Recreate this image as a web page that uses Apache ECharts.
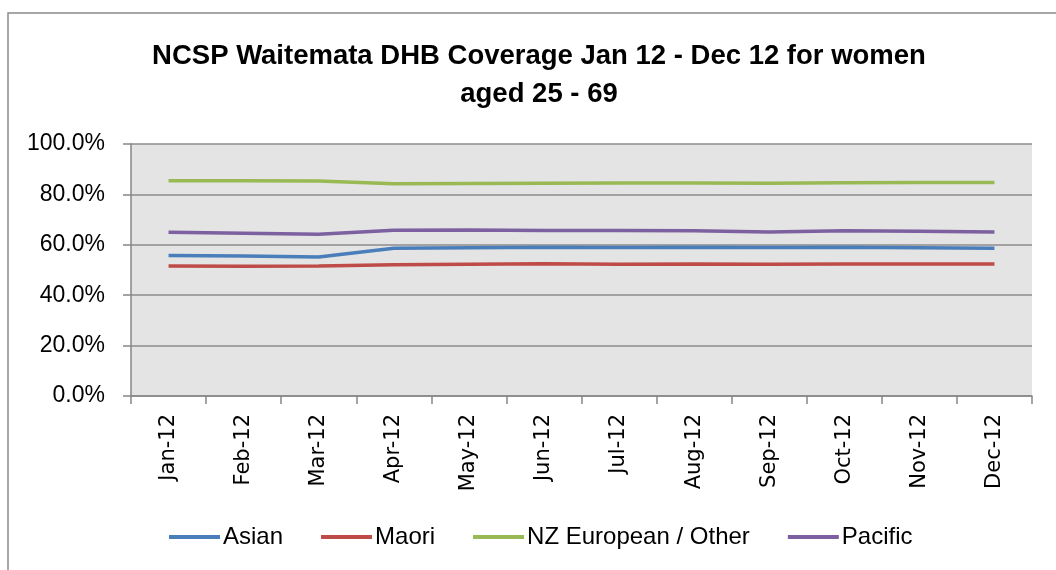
<!DOCTYPE html>
<html>
<head>
<meta charset="utf-8">
<script src="https://cdn.jsdelivr.net/npm/echarts@6/dist/echarts.min.js"></script>
<style>
  html, body { margin: 0; padding: 0; background: #fff; }
  #chart { width: 1056px; height: 570px; }
</style>
</head>
<body>
<div id="chart"></div>
<script>
// months on the x axis
var months = ['Jan-12', 'Feb-12', 'Mar-12', 'Apr-12', 'May-12', 'Jun-12',
  'Jul-12', 'Aug-12', 'Sep-12', 'Oct-12', 'Nov-12', 'Dec-12'];

// coverage in percent
var asian = [55.8, 55.6, 55.2, 58.6, 58.8, 59.0, 58.9, 59.0, 58.9, 59.0, 58.8, 58.6];
var maori = [51.6, 51.5, 51.6, 52.1, 52.3, 52.5, 52.3, 52.4, 52.3, 52.4, 52.4, 52.4];
var nzEuropean = [85.4, 85.4, 85.3, 84.2, 84.3, 84.4, 84.5, 84.5, 84.4, 84.6, 84.7, 84.7];
var pacific = [65.0, 64.6, 64.2, 65.8, 65.9, 65.7, 65.7, 65.6, 65.1, 65.6, 65.4, 65.1];

var seriesNames = ['Asian', 'Maori', 'NZ European / Other', 'Pacific'];
var seriesData = [asian, maori, nzEuropean, pacific];
var colors = ['#4a7ebb', '#be4b48', '#98b954', '#7d60a0'];

var chart = echarts.init(document.getElementById('chart'));

var series = [];
for (var i = 0; i < seriesNames.length; i++) {
  series.push({
    name: seriesNames[i],
    type: 'line',
    data: seriesData[i],
    symbol: 'none',
    lineStyle: { width: 3.5, color: colors[i] },
    itemStyle: { color: colors[i] }
  });
}

var option = {
  animation: false,
  color: colors,
  graphic: [{
    type: 'rect',
    shape: { x: 8, y: 13, width: 1200, height: 700 },
    style: { fill: 'none', stroke: '#8a8a8a', lineWidth: 1.5 },
    z: -1
  }],
  title: {
    text: 'NCSP Waitemata DHB Coverage Jan 12 - Dec 12 for women\naged 25 - 69',
    left: 534,
    top: 32,
    textAlign: 'center',
    textStyle: {
      fontFamily: 'Liberation Sans, sans-serif',
      fontWeight: 'bold',
      fontSize: 27.5,
      lineHeight: 38,
      color: '#000'
    }
  },
  legend: {
    bottom: 16,
    left: 164,
    icon: 'rect',
    itemWidth: 51,
    itemHeight: 4,
    itemGap: 38,
    textStyle: {
      fontFamily: 'Liberation Sans, sans-serif',
      fontSize: 24,
      color: '#000',
      padding: [0, 0, 0, -2]
    },
    data: seriesNames
  },
  grid: {
    left: 131,
    right: 24,
    top: 144,
    bottom: 174,
    show: true,
    backgroundColor: '#e4e4e4',
    borderWidth: 0
  },
  xAxis: {
    type: 'category',
    data: months,
    boundaryGap: true,
    axisLine: { lineStyle: { color: '#868686', width: 1.5 } },
    axisTick: { show: true, length: 8, lineStyle: { color: '#868686', width: 1.5 } },
    axisLabel: {
      rotate: 90,
      margin: 18,
      interval: 0,
      fontFamily: 'DejaVu Sans, sans-serif',
      fontSize: 21,
      color: '#000'
    }
  },
  yAxis: {
    type: 'value',
    min: 0,
    max: 100,
    interval: 20,
    axisLine: { show: true, lineStyle: { color: '#868686', width: 1.5 } },
    axisTick: { show: true, length: 8, lineStyle: { color: '#868686', width: 1.5 } },
    splitLine: { lineStyle: { color: '#8c8c8c', width: 1.5 } },
    axisLabel: {
      margin: 26,
      fontFamily: 'Liberation Sans, sans-serif',
      fontSize: 23,
      color: '#000',
      formatter: function (v) { return v.toFixed(1) + '%'; }
    }
  },
  series: series
};

chart.setOption(option);
</script>
</body>
</html>
